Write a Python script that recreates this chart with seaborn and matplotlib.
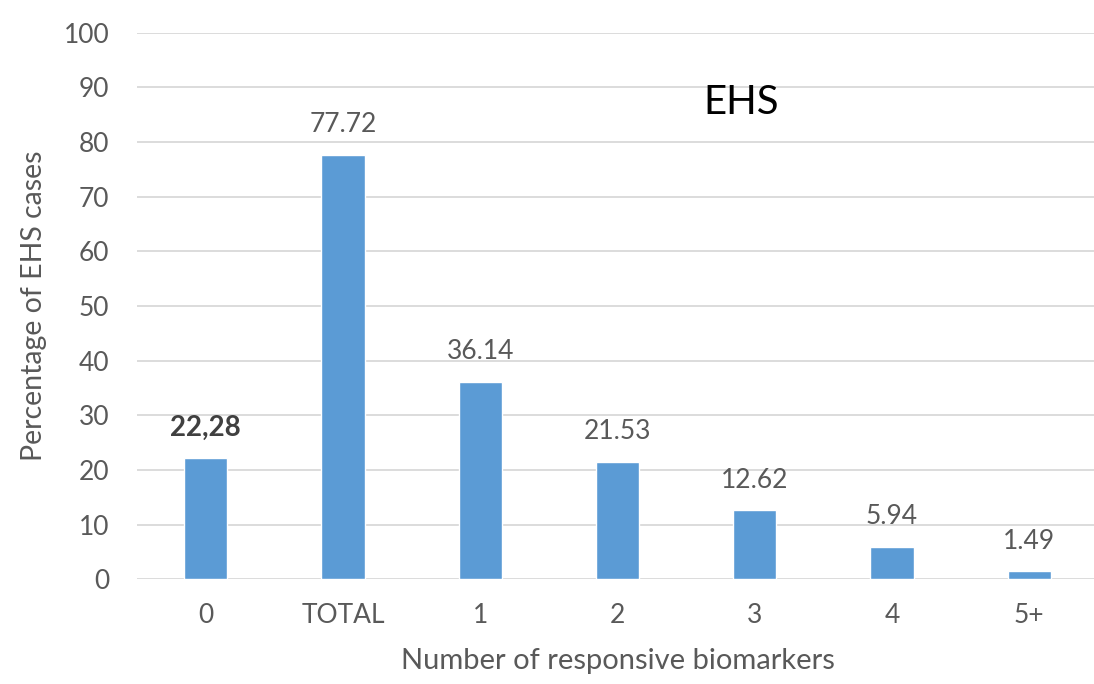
import matplotlib
matplotlib.use("Agg")
import matplotlib.pyplot as plt
import seaborn as sns
import pandas as pd

categories = ["0", "TOTAL", "1", "2", "3", "4", "5+"]
percentages = [22.28, 77.72, 36.14, 21.53, 12.62, 5.94, 1.49]
y_ticks = [0, 10, 20, 30, 40, 50, 60, 70, 80, 90, 100]

sns.set_style("white")
plt.rcParams["font.family"] = ["Lato", "DejaVu Sans"]

BAR = "#5B9BD5"
GRID = "#D9D9D9"
TXT = "#595959"

df = pd.DataFrame({"category": categories, "pct": percentages})

fig = plt.figure(figsize=(10.94, 6.84), dpi=100)
ax = fig.add_axes([0.1252, 0.1528, 0.8784, 0.7994])

sns.barplot(data=df, x="category", y="pct", color=BAR, width=0.315,
            saturation=1, ax=ax, zorder=3)

ax.set_xlim(-0.5, 6.5)
ax.set_ylim(0, 100)
ax.set_yticks(y_ticks)
ax.yaxis.grid(True, color=GRID, linewidth=1.3, zorder=0)
ax.set_axisbelow(True)
for s in ax.spines.values():
    s.set_visible(False)

ax.tick_params(axis="both", length=0, labelsize=19, labelcolor=TXT)
ax.tick_params(axis="y", pad=20)
ax.tick_params(axis="x", pad=17)

ax.set_xlabel("Number of responsive biomarkers", fontsize=21, color=TXT, labelpad=14)
ax.set_ylabel("Percentage of EHS cases", fontsize=20.5, color=TXT, labelpad=12)

# value labels above each bar; the "0" group is written with a decimal comma in bold
for i, (cat, v) in enumerate(zip(categories, percentages)):
    if cat == "0":
        ax.text(i, v + 5.5, f"{v:.2f}".replace(".", ","), ha="center", va="center",
                fontsize=20, fontweight="bold", color="#404040")
    else:
        ax.text(i, v + 5.5, f"{v:.2f}", ha="center", va="center",
                fontsize=19, color=TXT)

ax.text(3.9, 87.2, "EHS", ha="center", va="center", fontsize=29, color="black")

fig.savefig("out.png", dpi=100)
